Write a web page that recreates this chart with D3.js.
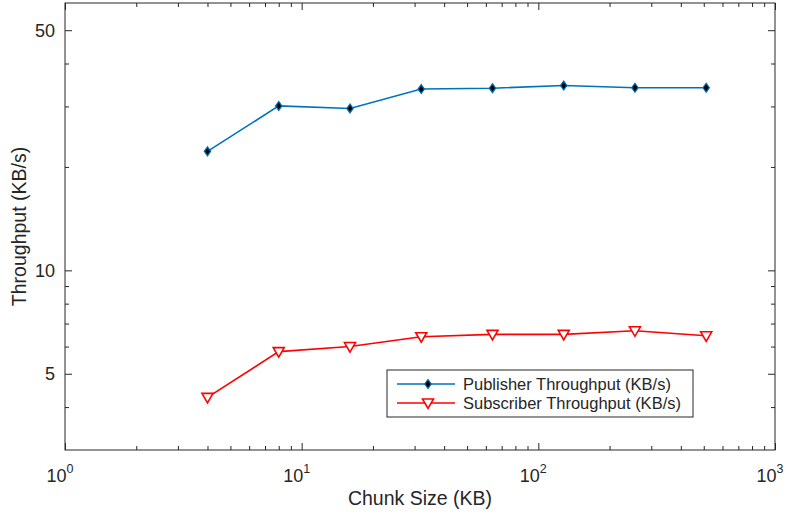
<!DOCTYPE html>
<html>
<head>
<meta charset="utf-8">
<script src="https://cdn.jsdelivr.net/npm/d3@7"></script>
<style>
  body { margin: 0; background: #fff; }
  text { font-family: "Liberation Sans", Arial, Helvetica, sans-serif; fill: #262626; }
</style>
</head>
<body>
<div id="chart"></div>
<script>
// chunk sizes (KB) and measured throughputs (KB/s)
const chunkSizes = [4, 8, 16, 32, 64, 128, 256, 512];
const publisherTput = [22.2, 30.1, 29.6, 33.7, 33.9, 34.5, 34.0, 34.0];
const subscriberTput = [4.27, 5.80, 6.00, 6.41, 6.51, 6.51, 6.67, 6.45];
const xMajorTicks = [1, 10, 100, 1000];
const yMajorTicks = [5, 10, 50];
const seriesNames = ["Publisher Throughput (KB/s)", "Subscriber Throughput (KB/s)"];

const width = 791, height = 514;
const margin = { top: 3, right: 16, bottom: 64, left: 65 };
const iw = width - margin.left - margin.right;
const ih = height - margin.top - margin.bottom;

const svg = d3.select("#chart").append("svg")
  .attr("width", width)
  .attr("height", height);

const g = svg.append("g").attr("transform", `translate(${margin.left},${margin.top})`);

const x = d3.scaleLog().domain([1, 1000]).range([0, iw]);
const y = d3.scaleLog().domain([3, 60]).range([ih, 0]);

// minor ticks for log axes
const xMinor = [];
[1, 10, 100].forEach(d => { for (let k = 2; k <= 9; k++) xMinor.push(d * k); });
const yMinor = [4, 6, 7, 8, 9, 20, 30, 40];

const axisColor = "#262626";
const drawTicks = (axisGen, ticks, len, tr) => {
  const a = g.append("g").attr("transform", tr)
    .call(axisGen.tickValues(ticks).tickSize(len).tickFormat(""));
  a.select(".domain").remove();
  a.selectAll("line").attr("stroke", axisColor);
  return a;
};

// ticks on all four sides (box on)
drawTicks(d3.axisTop(x), xMajorTicks, 7, `translate(0,${ih})`);
drawTicks(d3.axisTop(x), xMinor, 4, `translate(0,${ih})`);
drawTicks(d3.axisBottom(x), xMajorTicks, 7, "translate(0,0)");
drawTicks(d3.axisBottom(x), xMinor, 4, "translate(0,0)");
drawTicks(d3.axisRight(y), yMajorTicks, 7, "translate(0,0)");
drawTicks(d3.axisRight(y), yMinor, 4, "translate(0,0)");
drawTicks(d3.axisLeft(y), yMajorTicks, 7, `translate(${iw},0)`);
drawTicks(d3.axisLeft(y), yMinor, 4, `translate(${iw},0)`);

// frame
g.append("rect")
  .attr("width", iw).attr("height", ih)
  .attr("fill", "none").attr("stroke", axisColor).attr("stroke-width", 1);

// x tick labels as 10^n
const xl = g.selectAll(".xlab").data(xMajorTicks).enter().append("text")
  .attr("x", d => x(d) - 5)
  .attr("y", ih + 32)
  .attr("text-anchor", "middle")
  .style("font-size", "18px");
xl.append("tspan").text("10");
xl.append("tspan").attr("dy", -9).style("font-size", "12.5px")
  .text(d => Math.round(Math.log10(d)));

// y tick labels
g.selectAll(".ylab").data(yMajorTicks).enter().append("text")
  .attr("x", -10)
  .attr("y", d => y(d))
  .attr("dy", "0.35em")
  .attr("text-anchor", "end")
  .style("font-size", "18px")
  .text(d => d);

// axis titles
svg.append("text")
  .attr("x", margin.left + iw / 2)
  .attr("y", 505)
  .attr("text-anchor", "middle")
  .style("font-size", "19.5px")
  .text("Chunk Size (KB)");

svg.append("text")
  .attr("transform", `translate(26,${margin.top + ih / 2}) rotate(-90)`)
  .attr("text-anchor", "middle")
  .style("font-size", "19.5px")
  .text("Throughput (KB/s)");

// lines
const blue = "#0072BD", red = "#FF0000";
const line = d3.line().x(d => x(d[0])).y(d => y(d[1]));
const pubData = chunkSizes.map((c, i) => [c, publisherTput[i]]);
const subData = chunkSizes.map((c, i) => [c, subscriberTput[i]]);

g.append("path").datum(pubData).attr("d", line)
  .attr("fill", "none").attr("stroke", blue).attr("stroke-width", 1.6);
g.append("path").datum(subData).attr("d", line)
  .attr("fill", "none").attr("stroke", red).attr("stroke-width", 1.6);

const diamond = "M0,-4.5L3.2,0L0,4.5L-3.2,0Z";
const triDown = "M-5.5,-4L5.5,-4L0,5.5Z";

g.selectAll(".pub").data(pubData).enter().append("path")
  .attr("d", diamond)
  .attr("transform", d => `translate(${x(d[0])},${y(d[1])})`)
  .attr("fill", "#000").attr("stroke", blue).attr("stroke-width", 1.2);

g.selectAll(".sub").data(subData).enter().append("path")
  .attr("d", triDown)
  .attr("transform", d => `translate(${x(d[0])},${y(d[1])})`)
  .attr("fill", "#fff").attr("stroke", red).attr("stroke-width", 1.6);

// legend
const lg = svg.append("g").attr("transform", "translate(387,370)");
lg.append("rect").attr("width", 306).attr("height", 47)
  .attr("fill", "#fff").attr("stroke", axisColor).attr("stroke-width", 1);

const legendRows = [
  { name: seriesNames[0], color: blue, marker: diamond, fill: "#000", sw: 1.2, y: 14 },
  { name: seriesNames[1], color: red, marker: triDown, fill: "#fff", sw: 1.6, y: 33 }
];
legendRows.forEach(r => {
  lg.append("line").attr("x1", 10).attr("x2", 68).attr("y1", r.y).attr("y2", r.y)
    .attr("stroke", r.color).attr("stroke-width", 1.6);
  lg.append("path").attr("d", r.marker).attr("transform", `translate(41,${r.y})`)
    .attr("fill", r.fill).attr("stroke", r.color).attr("stroke-width", r.sw);
  lg.append("text").attr("x", 76).attr("y", r.y).attr("dy", "0.36em")
    .style("font-size", "16.5px").text(r.name);
});
</script>
</body>
</html>
